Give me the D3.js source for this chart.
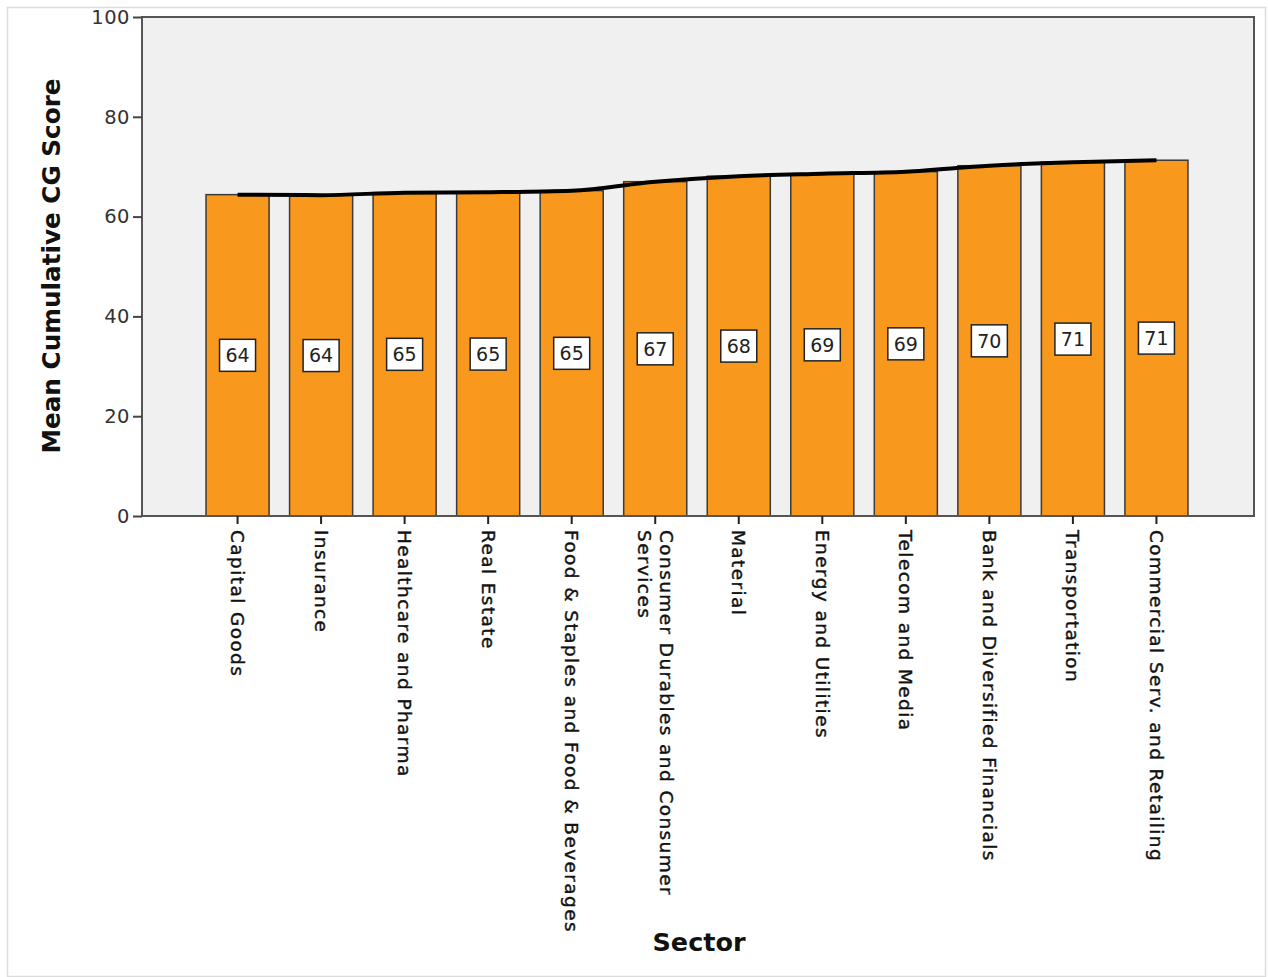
<!DOCTYPE html>
<html>
<head>
<meta charset="utf-8">
<script src="https://cdn.jsdelivr.net/npm/d3@7"></script>
<style>
  html, body { margin: 0; padding: 0; background: #fff; }
  svg { display: block; }
</style>
</head>
<body>
<svg id="chart" width="1268" height="977"></svg>
<script>
// ---- data ----
const categories = [
  "Capital Goods", "Insurance", "Healthcare and Pharma", "Real Estate",
  "Food & Staples and Food & Beverages", "Consumer Durables and Consumer Services",
  "Material", "Energy and Utilities", "Telecom and Media",
  "Bank and Diversified Financials", "Transportation", "Commercial Serv. and Retailing"
];
const categoryLines = [
  ["Capital Goods"], ["Insurance"], ["Healthcare and Pharma"], ["Real Estate"],
  ["Food & Staples and Food & Beverages"], ["Consumer Durables and Consumer", "Services"],
  ["Material"], ["Energy and Utilities"], ["Telecom and Media"],
  ["Bank and Diversified Financials"], ["Transportation"], ["Commercial Serv. and Retailing"]
];
const meanScores = [64.4, 64.3, 64.8, 64.9, 65.2, 67.0, 68.1, 68.6, 69.0, 70.2, 70.9, 71.3];
const yTicks = [0, 20, 40, 60, 80, 100];
const yTitle = "Mean Cumulative CG Score";
const xTitle = "Sector";

// ---- layout ----
const svg = d3.select("#chart");
const W = 1268, H = 977;
const plot = { left: 142, right: 1254, top: 17, bottom: 516 };

// outer frame
svg.append("rect").attr("x", 7.5).attr("y", 7.5).attr("width", W - 10).attr("height", H - 8)
  .attr("fill", "#fff").attr("stroke", "#dcdcdc").attr("stroke-width", 1.5);

const x = d3.scaleBand().domain(categories)
  .range([plot.left + 54, plot.right - 56]).paddingInner(0.245).paddingOuter(0.12);
const y = d3.scaleLinear().domain([0, 100]).range([plot.bottom, plot.top]);

// plot background
svg.append("rect").attr("x", plot.left).attr("y", plot.top)
  .attr("width", plot.right - plot.left).attr("height", plot.bottom - plot.top)
  .attr("fill", "#f0f0f0");

// bars
const data = categories.map((c, i) => ({ c, v: meanScores[i], lines: categoryLines[i] }));
svg.append("g").selectAll("rect").data(data).join("rect")
  .attr("x", d => x(d.c)).attr("y", d => y(d.v))
  .attr("width", x.bandwidth()).attr("height", d => y(0) - y(d.v))
  .attr("fill", "#f8991e").attr("stroke", "#3a3a3a").attr("stroke-width", 1.5);

// line
const line = d3.line().x(d => x(d.c) + x.bandwidth() / 2).y(d => y(d.v)).curve(d3.curveMonotoneX);
svg.append("path").datum(data).attr("d", line)
  .attr("fill", "none").attr("stroke", "#000").attr("stroke-width", 4).attr("stroke-linecap", "butt");

// value labels
const lab = svg.append("g").selectAll("g").data(data).join("g")
  .attr("transform", d => `translate(${x(d.c) + x.bandwidth() / 2},${y(d.v / 2)})`);
lab.append("rect").attr("x", -18).attr("y", -16).attr("width", 36).attr("height", 32)
  .attr("fill", "#fff").attr("stroke", "#222").attr("stroke-width", 1.5);
lab.append("text").attr("text-anchor", "middle").attr("dy", "0.36em")
  .attr("font-family", "DejaVu Sans, sans-serif").attr("font-size", 19).attr("fill", "#222")
  .text(d => Math.round(d.v));

// plot frame
svg.append("rect").attr("x", plot.left).attr("y", plot.top)
  .attr("width", plot.right - plot.left).attr("height", plot.bottom - plot.top)
  .attr("fill", "none").attr("stroke", "#555").attr("stroke-width", 2);

// y axis
const yAxis = svg.append("g").attr("transform", `translate(${plot.left},0)`)
  .call(d3.axisLeft(y).tickValues(yTicks).tickSize(9).tickPadding(3));
yAxis.select(".domain").remove();
yAxis.selectAll("line").attr("stroke", "#444").attr("stroke-width", 2);
yAxis.selectAll("text").attr("font-family", "DejaVu Sans, sans-serif").attr("font-size", 19.5)
  .attr("letter-spacing", 0.5).attr("fill", "#333");

// x axis
const xAxis = svg.append("g").attr("transform", `translate(0,${plot.bottom})`)
  .call(d3.axisBottom(x).tickSize(8).tickFormat(""));
xAxis.select(".domain").remove();
xAxis.selectAll("line").attr("stroke", "#222").attr("stroke-width", 2);

const lineH = 22;
const xl = svg.append("g").selectAll("text").data(data).join("text")
  .attr("transform", d => {
    const n = d.lines.length;
    const cx = x(d.c) + x.bandwidth() / 2 + (n - 1) * lineH / 2;
    return `translate(${cx},${plot.bottom + 14}) rotate(90)`;
  })
  .attr("font-family", "DejaVu Sans, sans-serif").attr("font-size", 18.5)
  .attr("letter-spacing", 1.4).attr("fill", "#111")
  .attr("stroke", "#111").attr("stroke-width", 0.4);
xl.selectAll("tspan").data(d => d.lines).join("tspan")
  .attr("x", 0).attr("y", (l, i) => i * lineH).attr("dy", "0.35em").text(l => l);

// titles
svg.append("text").attr("transform", `translate(60,266) rotate(-90)`)
  .attr("text-anchor", "middle").attr("font-family", "DejaVu Sans, sans-serif")
  .attr("font-weight", "bold").attr("font-size", 24.7).attr("fill", "#111").text(yTitle);
svg.append("text").attr("x", 699).attr("y", 951)
  .attr("text-anchor", "middle").attr("font-family", "DejaVu Sans, sans-serif")
  .attr("font-weight", "bold").attr("font-size", 25.5).attr("fill", "#111").text(xTitle);
</script>
</body>
</html>
